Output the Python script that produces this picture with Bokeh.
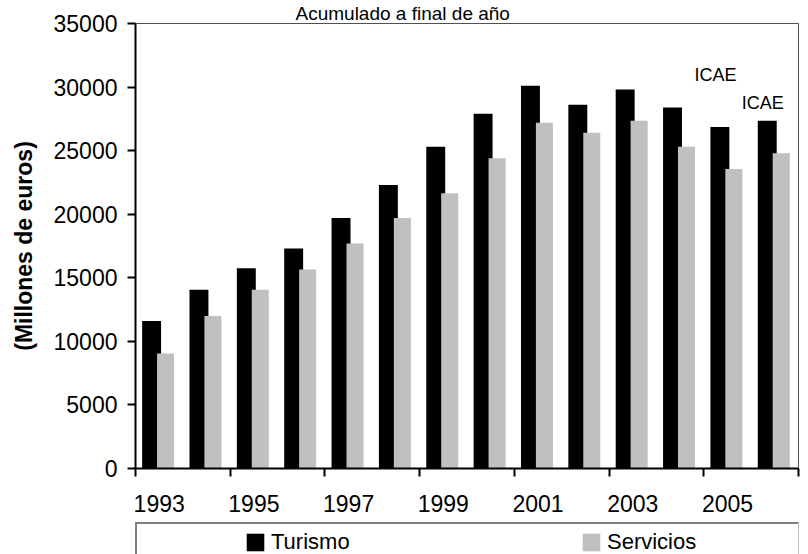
from bokeh.plotting import figure
from bokeh.models import Range1d, FixedTicker, ColumnDataSource, Legend, LegendItem, Title
from bokeh.layouts import column
from bokeh.transform import dodge
from bokeh.embed import file_html
from bokeh.resources import INLINE
from bokeh.core.properties import value

# ---- data ----
years = [1993, 1994, 1995, 1996, 1997, 1998, 1999, 2000, 2001, 2002, 2003, 2004, 2005, 2006]
turismo = [11600, 14050, 15750, 17300, 19700, 22300, 25300, 27900, 30100, 28600, 29800, 28400, 26850, 27350]
servicios = [9050, 12000, 14050, 15650, 17700, 19700, 21650, 24400, 27200, 26400, 27350, 25300, 23550, 24800]
y_ticks = [0, 5000, 10000, 15000, 20000, 25000, 30000, 35000]
x_label_years = [1993, 1995, 1997, 1999, 2001, 2003, 2005]
series_names = ["Turismo", "Servicios"]
series_colors = ["black", "#C0C0C0"]
title_text = "Acumulado a final de año"
y_label = "(Millones de euros)"
icae_years = [2005, 2006]
icae_heights = [30920, 28770]
icae_text = ["ICAE", "ICAE"]

FONT = "Liberation Sans"

src = ColumnDataSource(dict(year=years, turismo=turismo, servicios=servicios))

# ---------------- main chart ----------------
p = figure(width=808, height=522, output_backend="svg", toolbar_location=None,
           x_range=Range1d(years[0] - 0.5, years[-1] + 0.5),
           y_range=Range1d(y_ticks[0], y_ticks[-1]),
           min_border_left=135, min_border_right=10, min_border_top=23, min_border_bottom=54)
p.background_fill_color = "white"
p.border_fill_color = "white"
p.outline_line_color = "#505050"
p.outline_line_width = 1
p.grid.visible = False

p.add_layout(Title(text=title_text, align="left", offset=160, standoff=0,
                   text_font=FONT, text_font_size="19px", text_font_style="normal",
                   text_color="black"), "above")

# x axis: labels at odd years, tick marks between every two categories
boundaries = [y - 0.5 for y in years[::2]] + [years[-1] + 0.5]
xa = p.xaxis[0]
xa.ticker = FixedTicker(ticks=x_label_years, minor_ticks=boundaries)
xa.major_tick_out = 0
xa.major_tick_in = 0
xa.major_tick_line_color = None
xa.minor_tick_out = 8
xa.minor_tick_in = 0
xa.minor_tick_line_width = 2
xa.minor_tick_line_color = "black"
xa.axis_line_width = 2
xa.axis_line_color = "black"
xa.major_label_text_font = FONT
xa.major_label_text_font_size = "23px"
xa.major_label_text_color = "black"
xa.major_label_standoff = 18

ya = p.yaxis[0]
ya.ticker = FixedTicker(ticks=y_ticks)
ya.major_tick_out = 8
ya.major_tick_in = 0
ya.major_tick_line_width = 2
ya.major_tick_line_color = "black"
ya.minor_tick_out = 0
ya.minor_tick_in = 0
ya.axis_line_width = 2
ya.axis_line_color = "black"
ya.major_label_text_font = FONT
ya.major_label_text_font_size = "23px"
ya.major_label_text_color = "black"
ya.major_label_standoff = 10
ya.axis_label = y_label
ya.axis_label_text_font = FONT
ya.axis_label_text_font_size = "23px"
ya.axis_label_text_font_style = "bold"
ya.axis_label_text_color = "black"
ya.axis_label_standoff = 14

p.vbar(x=dodge("year", -0.16), top="turismo", width=0.40, source=src,
       fill_color=series_colors[0], line_color=None)
p.vbar(x=dodge("year", 0.135), top="servicios", width=0.36, source=src,
       fill_color=series_colors[1], line_color=None)

p.text(x=icae_years, y=icae_heights, text=icae_text, x_offset=-12,
       text_align="center", text_baseline="alphabetic",
       text_font=value(FONT), text_font_size="18px", text_color="black")

# ---------------- legend strip below the chart ----------------
pl = figure(width=808, height=32, output_backend="svg", toolbar_location=None,
            x_range=Range1d(0, 1), y_range=Range1d(0, 1),
            min_border_left=130, min_border_right=0, min_border_top=0, min_border_bottom=0,
            x_axis_location=None, y_axis_location=None)
pl.background_fill_color = "white"
pl.border_fill_color = "white"
pl.outline_line_color = None
pl.grid.visible = False
lr1 = pl.vbar(x=dodge("year", -0.16), top="turismo", width=0.40, source=src,
              fill_color=series_colors[0], line_color=None)
lr2 = pl.vbar(x=dodge("year", 0.135), top="servicios", width=0.36, source=src,
              fill_color=series_colors[1], line_color=None)

legend = Legend(items=[LegendItem(label=series_names[0], renderers=[lr1]),
                       LegendItem(label=series_names[1], renderers=[lr2])],
                orientation="horizontal", location="top_left", padding=5, spacing=109,
                label_width=200, label_standoff=5, glyph_width=22, glyph_height=22,
                label_text_font=FONT, label_text_font_size="22px", label_text_color="black",
                border_line_color="black", border_line_width=2,
                background_fill_color="white", background_fill_alpha=1,
                title=" ", title_location="left", title_text_font_size="1px",
                title_standoff=101, margin=0)
pl.add_layout(legend, "center")

layout = column(p, pl, spacing=0)
open("out.html", "w").write(file_html(layout, INLINE))
